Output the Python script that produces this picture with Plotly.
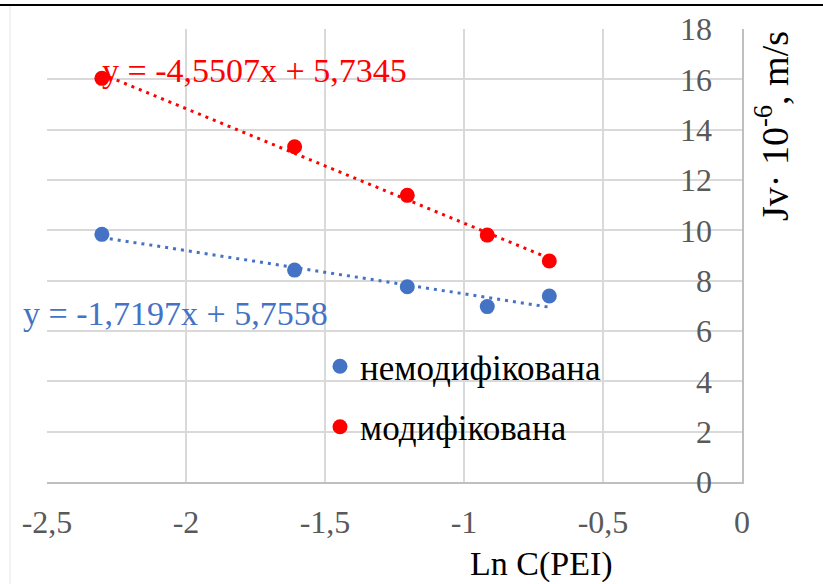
import plotly.graph_objects as go

# ---- data ----
x_ln_c = [-2.3026, -1.6094, -1.2040, -0.9163, -0.6931]
jv_unmodified = [9.84, 8.42, 7.76, 6.97, 7.39]
jv_modified = [16.04, 13.32, 11.39, 9.81, 8.78]
series_names = ["немодифікована", "модифікована"]
fit_unmodified = [-1.7197, 5.7558]   # slope, intercept
fit_modified = [-4.5507, 5.7345]
eq_unmodified = "y = -1,7197x + 5,7558"
eq_modified = "y = -4,5507x + 5,7345"
x_ticks = [-2.5, -2, -1.5, -1, -0.5, 0]
x_tick_text = ["-2,5", "-2", "-1,5", "-1", "-0,5", "0"]
y_ticks = [0, 2, 4, 6, 8, 10, 12, 14, 16, 18]

BLUE = "#4472C4"
RED = "#FF0000"
FONT = "Liberation Serif, Times New Roman, serif"

L, R, T, B = 47, 742, 29, 482
PW, PH = R - L, B - T

def px_x(p):
    return (p - L) / PW

def px_y(p):
    return (B - p) / PH

def fit_line(coef, xs):
    x0, x1 = xs[0], xs[-1]
    return [x0, x1], [coef[0] * x0 + coef[1], coef[0] * x1 + coef[1]]

fig = go.Figure()

for coef, col in [(fit_unmodified, BLUE), (fit_modified, RED)]:
    lx, ly = fit_line(coef, x_ln_c)
    fig.add_trace(go.Scatter(x=lx, y=ly, mode="lines", showlegend=False,
                             hoverinfo="skip",
                             line=dict(color=col, width=3, dash="3px,5px")))

fig.add_trace(go.Scatter(x=x_ln_c, y=jv_unmodified, mode="markers",
                         name=series_names[0], legendgroup="a",
                         marker=dict(color=BLUE, size=15)))
fig.add_trace(go.Scatter(x=x_ln_c, y=jv_modified, mode="markers",
                         name=series_names[1], legendgroup="b",
                         marker=dict(color=RED, size=15)))
# invisible trace on the label axis so it gets drawn
fig.add_trace(go.Scatter(x=[None], y=[None], yaxis="y2", showlegend=False,
                         hoverinfo="skip"))

fig.add_annotation(x=-1.752, y=16.37, xref="x", yref="y", text=eq_modified,
                   xanchor="center", yanchor="middle",
                   showarrow=False, font=dict(family=FONT, size=34, color=RED))
fig.add_annotation(x=-2.036, y=6.71, xref="x", yref="y", text=eq_unmodified,
                   xanchor="center", yanchor="middle",
                   showarrow=False, font=dict(family=FONT, size=34, color=BLUE))

# axis titles
fig.add_annotation(x=px_x(541), y=px_y(564), xref="paper", yref="paper",
                   xanchor="center", yanchor="middle",
                   text="Ln C(PEI)", showarrow=False,
                   font=dict(family=FONT, size=34, color="#000000"))
fig.add_annotation(x=px_x(772), y=px_y(126), xref="paper", yref="paper",
                   xanchor="center", yanchor="middle",
                   text="Jv· 10<sup>-6</sup>, m/s", showarrow=False, textangle=-90,
                   font=dict(family=FONT, size=38, color="#000000"))

# page decorations: top rule and faint chart border
fig.add_shape(type="line", xref="paper", yref="paper",
              x0=px_x(0), x1=px_x(823), y0=px_y(5), y1=px_y(5),
              line=dict(color="#000000", width=2))
fig.add_shape(type="line", xref="paper", yref="paper",
              x0=px_x(10), x1=px_x(10), y0=px_y(6), y1=px_y(584),
              line=dict(color="#E6E6E6", width=1))

fig.update_layout(
    width=823, height=584,
    margin=dict(l=L, r=823 - R, t=T, b=584 - B),
    paper_bgcolor="white", plot_bgcolor="white",
    font=dict(family=FONT, color="#595959"),
    showlegend=True,
    legend=dict(x=px_x(320), y=px_y(337), xanchor="left", yanchor="top",
                bgcolor="rgba(0,0,0,0)", font=dict(family=FONT, size=35, color="#000000"),
                tracegroupgap=12, itemwidth=30),
    xaxis=dict(range=[-2.5, 0], tickvals=x_ticks, ticktext=x_tick_text,
               showgrid=True, gridcolor="#D9D9D9", gridwidth=2,
               zeroline=False, showline=True, linecolor="#BFBFBF", linewidth=2,
               ticks="", ticklabelstandoff=11,
               tickfont=dict(family=FONT, size=32, color="#595959")),
    yaxis=dict(range=[0, 18], tickvals=y_ticks, side="right",
               showticklabels=False,
               showgrid=True, gridcolor="#D9D9D9", gridwidth=2,
               zeroline=False, showline=True, linecolor="#BFBFBF", linewidth=2,
               ticks=""),
    yaxis2=dict(range=[0, 18], tickvals=y_ticks, overlaying="y", anchor="free",
                side="left", position=px_x(712), showgrid=False, zeroline=False,
                showline=False, ticks="",
                tickfont=dict(family=FONT, size=32, color="#595959")),
)

fig.write_html("out.html")
